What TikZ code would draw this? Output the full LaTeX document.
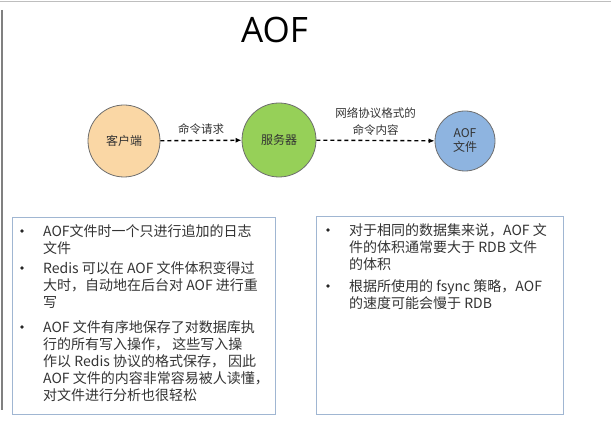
\documentclass[tikz,border=0pt]{standalone}
\usepackage{fontspec}
\setmainfont{Noto Sans CJK SC}
\newfontfamily\titlefont{Open Sans}
\usetikzlibrary{arrows.meta}
\definecolor{clientfill}{RGB}{250,215,165}
\definecolor{serverfill}{RGB}{150,208,88}
\definecolor{aoffill}{RGB}{142,180,224}
\definecolor{ringgray}{RGB}{110,110,110}
\definecolor{boxblue}{RGB}{160,182,210}
\definecolor{textgray}{RGB}{51,51,51}
\definecolor{framegray}{RGB}{190,190,190}

\tikzset{
  ball/.style={circle,draw=ringgray,line width=0.8pt,inner sep=0pt,
    font=\fontsize{12}{14}\selectfont,text=textgray},
  flow/.style={dash pattern=on 4pt off 3pt,line width=1.4pt,
    -{Latex[length=6pt,width=5pt]}},
  flowlbl/.style={font=\fontsize{11.5}{17}\selectfont,text=textgray,align=center},
  panel/.style={draw=boxblue,line width=0.8pt},
  itemtxt/.style={anchor=north west,align=left,inner sep=0pt,
    font=\fontsize{14}{17}\selectfont,text=textgray},
  dot/.style={circle,fill=black!85,inner sep=0pt,minimum size=3.6pt}
}

\begin{document}
\begin{tikzpicture}[x=1pt,y=-1pt]
  \useasboundingbox (0,0) rectangle (611,422);
  % frame of the screen
  \draw[framegray,line width=1.2pt] (0,1.5) -- (611,1.5);
  \draw[gray,line width=1.5pt] (2,10) -- (2,410);

  \node[font=\titlefont\fontsize{35}{40}\selectfont] (title) at (274.5,30) {AOF};

  % flow
  \node[ball,fill=clientfill,minimum size=72pt] (client) at (124,141) {客户端};
  \node[ball,fill=serverfill,minimum size=74pt] (server) at (279,140) {服务器};
  \node[ball,fill=aoffill,minimum size=60pt,align=center] (aof) at (465,141) {AOF\\文件};
  \draw[flow] (client) -- (server)
    node[flowlbl,midway,above=2pt] (req) {命令请求};
  \draw[flow] (server) -- (aof)
    node[flowlbl,midway,above=1pt] (proto) {网络协议格式的\\命令内容};

  % panels
  \draw[panel] (12,217) rectangle (275,414);
  \draw[panel] (316,216) rectangle (563,414);

  \node[itemtxt] (pro1) at (43,224) {AOF文件时一个只进行追加的日志\\文件};
  \node[itemtxt] (pro2) at (43,261) {Redis 可以在 AOF 文件体积变得过\\大时，自动地在后台对 AOF 进行重\\写};
  \node[itemtxt] (pro3) at (43,320) {AOF 文件有序地保存了对数据库执\\行的所有写入操作， 这些写入操\\作以 Redis 协议的格式保存， 因此\\AOF 文件的内容非常容易被人读懂，\\对文件进行分析也很轻松};
  \node[itemtxt] (con1) at (349,223) {对于相同的数据集来说，AOF 文\\件的体积通常要大于 RDB 文件\\的体积};
  \node[itemtxt] (con2) at (349,279) {根据所使用的 fsync 策略，AOF\\的速度可能会慢于 RDB};
  \foreach \n in {pro1,pro2,pro3,con1,con2}
    \node[dot] (dot-\n) at ([xshift=-21pt,yshift=-7pt]\n.north west) {};
\end{tikzpicture}
\end{document}
